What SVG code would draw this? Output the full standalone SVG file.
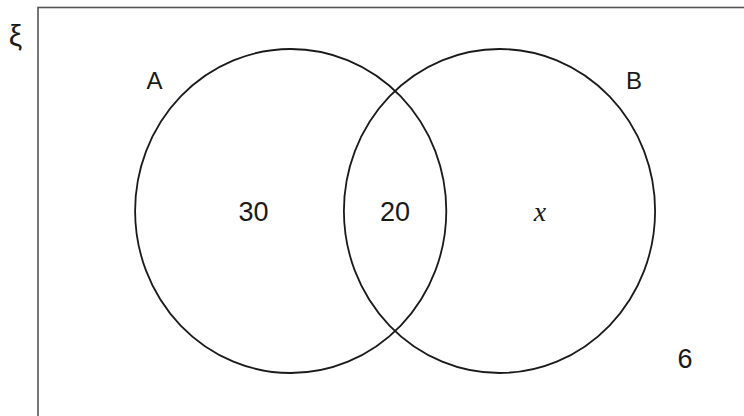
<svg xmlns="http://www.w3.org/2000/svg" width="744" height="416" viewBox="0 0 744 416">
<style>
.frame{fill:none;stroke:#555;stroke-width:1.6}
.set{fill:none;stroke:#1a1a1a;stroke-width:1.8}
.lbl{font-family:"Liberation Sans",Arial,sans-serif;fill:#1a1a1a;text-anchor:middle}
.num{font-family:"Liberation Sans",Arial,sans-serif;font-size:27px;fill:#1a1a1a;text-anchor:middle}
</style>
<rect width="744" height="416" fill="#fff"/>
<g id="universe">
<rect class="frame" x="38" y="7.5" width="720" height="420"/>
<text class="lbl" x="15.5" y="46" font-size="30">ξ</text>
<text class="num" x="685" y="368">6</text>
</g>
<g id="setA">
<ellipse class="set" cx="290.7" cy="211" rx="155.6" ry="162"/>
<text class="lbl" x="154.5" y="89" font-size="24">A</text>
<text class="num" x="253.5" y="221">30</text>
</g>
<g id="setB">
<ellipse class="set" cx="499.5" cy="211" rx="155.6" ry="162"/>
<text class="lbl" x="634" y="89" font-size="24">B</text>
<text x="540" y="221" font-family="'Liberation Serif','Times New Roman',serif" font-style="italic" font-size="28" fill="#1a1a1a" text-anchor="middle">x</text>
</g>
<g id="intersection">
<text class="num" x="395" y="221">20</text>
</g>
<g id="connectors"></g>
</svg>
